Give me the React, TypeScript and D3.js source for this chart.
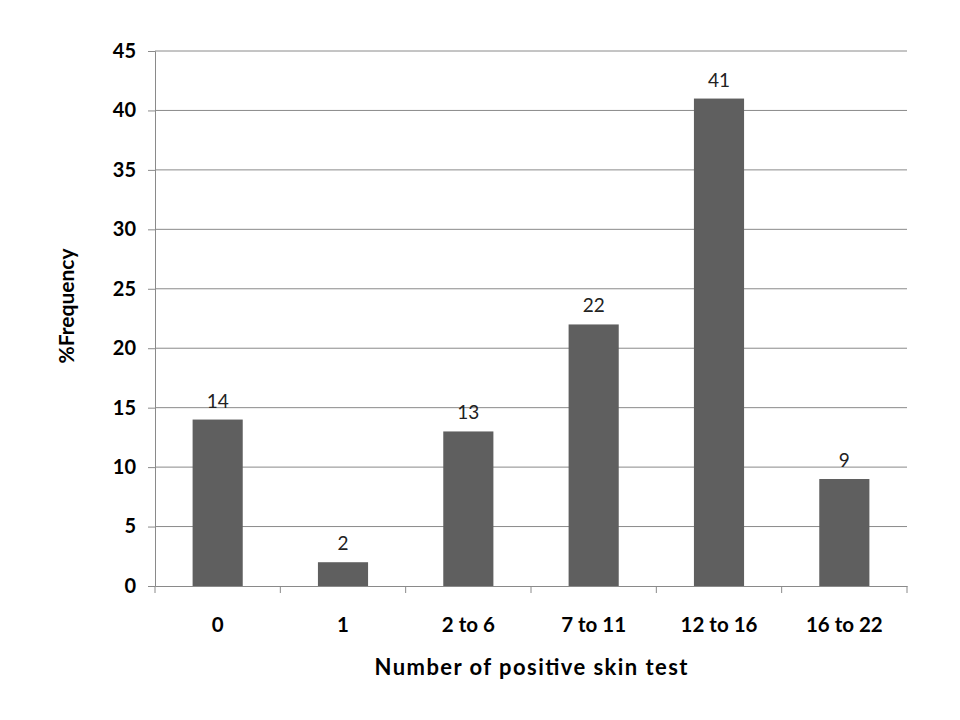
import React, { useEffect, useRef } from "react";
import * as d3 from "d3";

const categories = ["0", "1", "2 to 6", "7 to 11", "12 to 16", "16 to 22"];
const frequency = [14, 2, 13, 22, 41, 9];
const yTicks = [0, 5, 10, 15, 20, 25, 30, 35, 40, 45];

const FONT = "Lato, 'Open Sans', sans-serif";

export default function App() {
  const ref = useRef<SVGSVGElement>(null);

  useEffect(() => {
    const width = 960;
    const height = 720;
    const margin = { top: 51, right: 53, bottom: 134, left: 155 };

    const svg = d3.select(ref.current!);
    svg.selectAll("*").remove();

    const x = d3
      .scaleBand()
      .domain(categories)
      .range([margin.left, width - margin.right])
      .paddingInner(0.6)
      .paddingOuter(0.3);

    const band = d3
      .scaleBand()
      .domain(categories)
      .range([margin.left, width - margin.right]);

    const y = d3
      .scaleLinear()
      .domain([0, 45])
      .range([height - margin.bottom, margin.top]);

    // gridlines
    svg
      .append("g")
      .selectAll("line")
      .data(yTicks.filter((t) => t > 0))
      .join("line")
      .attr("x1", margin.left)
      .attr("x2", width - margin.right)
      .attr("y1", (d) => y(d))
      .attr("y2", (d) => y(d))
      .attr("stroke", "#8a8a8a")
      .attr("stroke-width", 1);

    // bars
    svg
      .append("g")
      .selectAll("rect")
      .data(frequency)
      .join("rect")
      .attr("x", (_, i) => x(categories[i])!)
      .attr("y", (d) => y(d))
      .attr("width", x.bandwidth())
      .attr("height", (d) => y(0) - y(d))
      .attr("fill", "#5f5f5f");

    // value labels
    svg
      .append("g")
      .selectAll("text")
      .data(frequency)
      .join("text")
      .attr("x", (_, i) => x(categories[i])! + x.bandwidth() / 2)
      .attr("y", (d) => y(d) - 12)
      .attr("text-anchor", "middle")
      .attr("font-family", FONT)
      .attr("font-size", 19)
      .attr("fill", "#222")
      .text((d) => d);

    // y axis
    const yAxis = svg
      .append("g")
      .attr("transform", `translate(${margin.left},0)`)
      .call(d3.axisLeft(y).tickValues(yTicks).tickSize(7).tickPadding(12));
    yAxis.select(".domain").attr("stroke", "#8a8a8a");
    yAxis.selectAll(".tick line").attr("stroke", "#8a8a8a");
    yAxis
      .selectAll(".tick text")
      .attr("font-family", FONT)
      .attr("font-size", 20)
      .attr("font-weight", "bold")
      .attr("fill", "#000");

    // x axis
    const xAxis = svg
      .append("g")
      .attr("transform", `translate(0,${y(0)})`)
      .call(d3.axisBottom(band).tickSize(0).tickPadding(0));
    xAxis.select(".domain").attr("stroke", "#8a8a8a");
    xAxis
      .selectAll(".tick text")
      .attr("y", 46)
      .attr("dy", 0)
      .attr("font-family", FONT)
      .attr("font-size", 20.5)
      .attr("font-weight", "bold")
      .attr("fill", "#000");

    // category boundary ticks
    const bounds = categories.map((c) => band(c)!).concat([width - margin.right]);
    svg
      .append("g")
      .selectAll("line")
      .data(bounds)
      .join("line")
      .attr("x1", (d) => d)
      .attr("x2", (d) => d)
      .attr("y1", y(0))
      .attr("y2", y(0) + 7)
      .attr("stroke", "#8a8a8a");

    // axis titles
    svg
      .append("text")
      .attr("x", 531)
      .attr("y", 675)
      .attr("text-anchor", "middle")
      .attr("font-family", FONT)
      .attr("font-size", 22)
      .attr("font-weight", "bold")
      .attr("textLength", 313)
      .attr("lengthAdjust", "spacing")
      .text("Number of positive skin test");

    svg
      .append("text")
      .attr("transform", `translate(74,306) rotate(-90)`)
      .attr("text-anchor", "middle")
      .attr("font-family", FONT)
      .attr("font-size", 21)
      .attr("font-weight", "bold")
      .text("%Frequency");
  }, []);

  return (
    <svg
      ref={ref}
      width={960}
      height={720}
      style={{ position: "absolute", left: 0, top: 0, background: "#fff" }}
    />
  );
}
